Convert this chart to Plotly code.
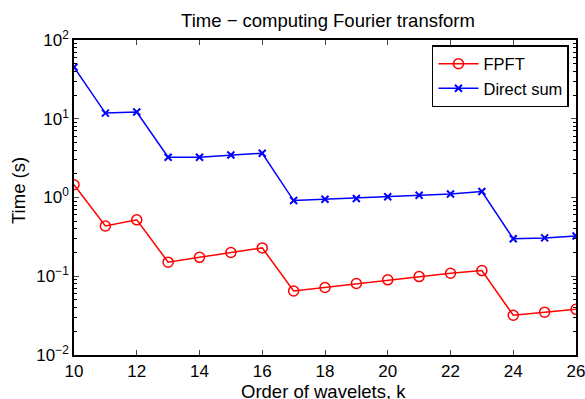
import plotly.graph_objects as go

k = list(range(10, 27))
fpft = [1.45, 0.435, 0.52, 0.151, 0.174, 0.20, 0.229, 0.065, 0.072, 0.081,
        0.090, 0.099, 0.109, 0.118, 0.032, 0.035, 0.038]
direct = [45.3, 11.8, 12.2, 3.24, 3.25, 3.47, 3.65, 0.914, 0.95, 0.97,
          1.02, 1.07, 1.11, 1.19, 0.30, 0.307, 0.325]
xticks = [10, 12, 14, 16, 18, 20, 22, 24, 26]
yticks = [0.01, 0.1, 1, 10, 100]
yticktext = ["10<sup>−2</sup>", "10<sup>−1</sup>", "10<sup>0</sup>", "10<sup>1</sup>", "10<sup>2</sup>"]

font = "Liberation Sans, Arial, sans-serif"
L, R, T, B = 74, 9, 40, 44
W, H = 585, 399
pw, ph = W - L - R, H - T - B

fig = go.Figure()
fig.add_trace(go.Scatter(
    x=k, y=fpft, mode="lines+markers", name="FPFT",
    line=dict(color="#ff0000", width=1.5),
    marker=dict(symbol="circle-open", size=10, color="#ff0000", line=dict(width=1.5)),
))
fig.add_trace(go.Scatter(
    x=k, y=direct, mode="lines+markers", name="Direct sum",
    line=dict(color="#0000ff", width=1.5),
    marker=dict(symbol="x-thin-open", size=7, color="#0000ff", line=dict(width=2, color="#0000ff")),
))

fig.update_layout(
    width=W, height=H,
    margin=dict(l=L, r=R, t=T, b=B),
    paper_bgcolor="white", plot_bgcolor="white",
    font=dict(family=font, size=17, color="black"),
    title=dict(text="Time − computing Fourier transform", x=(328 - L) / pw,
               xanchor="center", xref="paper",
               y=1 - 21 / H, yref="container", yanchor="middle",
               font=dict(size=18.5)),
    showlegend=True,
    legend=dict(x=0.986, y=0.984, xanchor="right", yanchor="top",
                bgcolor="white", bordercolor="black", borderwidth=1.5,
                font=dict(size=16.5), tracegroupgap=0,
                itemwidth=40),
    annotations=[
        dict(text="Order of wavelets, k", xref="paper", yref="paper",
             x=(323 - L) / pw, y=-(391 - (H - B)) / ph, xanchor="center", yanchor="middle",
             showarrow=False, font=dict(size=18.5)),
        dict(text="Time (s)", xref="paper", yref="paper", textangle=-90,
             x=(18 - L) / pw, y=((H - B) - 191) / ph, xanchor="center", yanchor="middle",
             showarrow=False, font=dict(size=18.5)),
    ],
)
fig.update_xaxes(
    range=[10, 26], tickvals=xticks, ticks="inside", ticklen=5,
    showline=True, linecolor="black", linewidth=1.5, mirror="ticks",
    showgrid=False, zeroline=False, automargin=False, ticklabeloverflow="allow",
    tickfont=dict(size=17),
)
fig.update_yaxes(
    type="log", range=[-2, 2], tickvals=yticks, ticktext=yticktext,
    ticks="inside", ticklen=5,
    minor=dict(ticks="inside", ticklen=3, tickcolor="black",
               tickvals=[m * 10 ** e for e in range(-2, 2) for m in range(2, 10)]),
    showline=True, linecolor="black", linewidth=1.5, mirror="ticks",
    showgrid=False, zeroline=False, automargin=False, ticklabeloverflow="allow",
    tickfont=dict(size=17),
)

fig.write_html("out.html")
